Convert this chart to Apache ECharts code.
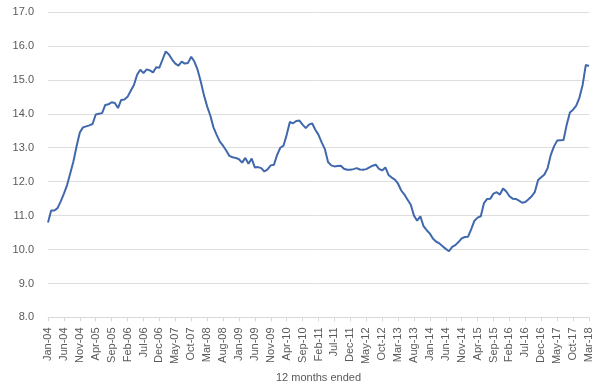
<!DOCTYPE html>
<html>
<head>
<meta charset="utf-8">
<script src="https://cdn.jsdelivr.net/npm/echarts@6/dist/echarts.min.js"></script>
<style>
html,body{margin:0;padding:0;background:#fff;}
#chart{width:600px;height:388px;}
</style>
</head>
<body>
<div id="chart"></div>
<script>
var monthNames = ['Jan','Feb','Mar','Apr','May','Jun','Jul','Aug','Sep','Oct','Nov','Dec'];
var startYear = 2004, endYear = 2018, endMonth = 3;
var categories = [];
for (var y = startYear; y <= endYear; y++) {
  for (var m = 0; m < 12; m++) {
    if (y === endYear && m >= endMonth) break;
    categories.push(monthNames[m] + '-' + String(y).slice(2));
  }
}
var values = [
  10.8, 11.15, 11.15, 11.22, 11.42, 11.65, 11.9, 12.25, 12.6, 13.05,
  13.45, 13.6, 13.63, 13.66, 13.7, 13.98, 14.0, 14.02, 14.26, 14.28,
  14.34, 14.32, 14.17, 14.41, 14.42, 14.5, 14.68, 14.85, 15.15, 15.3,
  15.2, 15.31, 15.28, 15.22, 15.37, 15.36, 15.6, 15.84, 15.75, 15.6,
  15.48, 15.42, 15.54, 15.48, 15.5, 15.68, 15.54, 15.3, 14.95, 14.55,
  14.22, 13.95, 13.6, 13.38, 13.18, 13.06, 12.92, 12.76, 12.72, 12.7,
  12.66, 12.56, 12.7, 12.53, 12.68, 12.42, 12.43, 12.4, 12.3, 12.36,
  12.48, 12.5, 12.79, 13.0, 13.06, 13.38, 13.76, 13.72, 13.79, 13.8,
  13.68, 13.58, 13.68, 13.72, 13.53, 13.38, 13.16, 12.96, 12.58, 12.48,
  12.45, 12.46, 12.47, 12.38, 12.35, 12.35, 12.37, 12.4, 12.36, 12.35,
  12.37, 12.42, 12.47, 12.5, 12.38, 12.33, 12.42, 12.2, 12.12, 12.06,
  11.94, 11.74, 11.62, 11.47, 11.32, 11.0, 10.85, 10.98, 10.69, 10.57,
  10.47, 10.32, 10.23, 10.18, 10.1, 10.02, 9.95, 10.08, 10.13, 10.22,
  10.33, 10.37, 10.38, 10.6, 10.85, 10.94, 10.98, 11.37, 11.49, 11.5,
  11.65, 11.69, 11.62, 11.8, 11.71, 11.57, 11.5, 11.49, 11.44, 11.38,
  11.4, 11.48, 11.57, 11.7, 12.05, 12.13, 12.21, 12.4, 12.79, 13.04,
  13.21, 13.22, 13.23, 13.68, 14.04, 14.12, 14.24, 14.48, 14.85, 15.44,
  15.41
];
var yMin = 8, yMax = 17, yStep = 1;
var xTitle = '12 months ended';

var chart = echarts.init(document.getElementById('chart'), null, {renderer: 'canvas'});
chart.setOption({
  animation: false,
  backgroundColor: '#ffffff',
  textStyle: {fontFamily: 'Liberation Sans, Arial, sans-serif'},
  grid: {left: 48, right: 11, top: 12, bottom: 69, containLabel: false},
  xAxis: {
    type: 'category',
    data: categories,
    boundaryGap: false,
    name: xTitle,
    nameLocation: 'middle',
    nameGap: 48,
    nameTextStyle: {color: '#595959', fontSize: 11},
    axisLine: {lineStyle: {color: '#d9d9d9', width: 1}},
    axisTick: {show: true, interval: 4, length: 4, lineStyle: {color: '#d9d9d9'}},
    axisLabel: {interval: 4, rotate: 90, color: '#595959', fontSize: 11, margin: 10},
    splitLine: {show: false}
  },
  yAxis: {
    type: 'value',
    min: yMin, max: yMax, interval: yStep,
    axisLine: {show: false},
    axisTick: {show: false},
    axisLabel: {color: '#595959', fontSize: 11, margin: 14, formatter: function (v) { return v.toFixed(1); }},
    splitLine: {lineStyle: {color: '#dedede', width: 1}}
  },
  series: [{
    type: 'line',
    data: values,
    showSymbol: false,
    symbol: 'none',
    lineStyle: {color: '#4068ad', width: 2},
    itemStyle: {color: '#4068ad'}
  }]
});
</script>
</body>
</html>
